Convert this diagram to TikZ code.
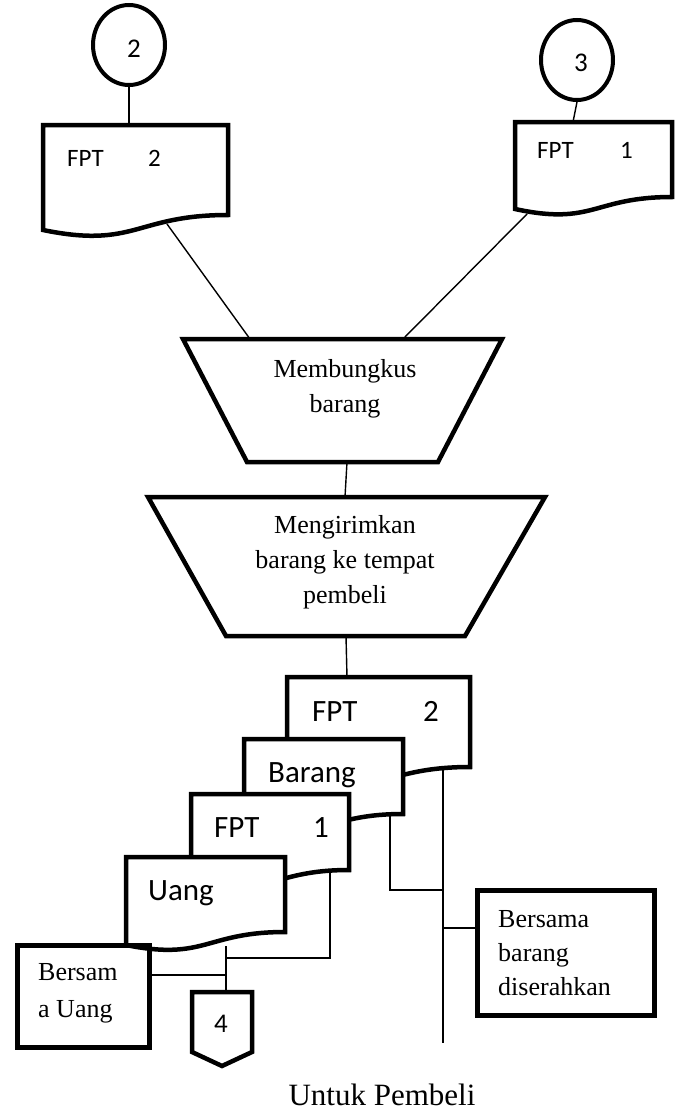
\documentclass[tikz,border=0pt]{standalone}
\usepackage{fontspec}
\usetikzlibrary{shapes.geometric}
\setmainfont{Liberation Serif}
\newfontfamily\docfont{Carlito}
\begin{document}
\begin{tikzpicture}[x=1pt,y=-1pt,
  outline/.style={line width=4.5pt, line join=miter, fill=white},
  wire/.style={line width=1.4pt},
  small/.style={font=\docfont\fontsize{25}{30}\selectfont, anchor=base west, inner sep=0pt},
  big/.style={font=\docfont\fontsize{31}{36}\selectfont, anchor=base west, inner sep=0pt},
  digit/.style={font=\docfont\fontsize{27}{30}\selectfont, anchor=base, inner sep=0pt},
  serif/.style={font=\fontsize{26}{35}\selectfont, inner sep=0pt, anchor=base},
  serifl/.style={serif, anchor=base west},
  connector/.style={ellipse, draw, line width=4pt, minimum width=72pt, minimum height=80pt, inner sep=0pt}]
\useasboundingbox (0,0) rectangle (678,1111);

% document symbol: left x, top y, right x, right-bottom y, left-bottom y, control y
\newcommand\docsym[6]{%
  \draw[outline] (#1,#2) -- (#3,#2) -- (#3,#4)
    .. controls ({(#1+#3)/2},#4) and ({(#1+#3)/2},#6) .. (#1,#5) -- cycle;}

% on-page connectors
\node[connector] (k2) at (129,45) {};
\node[digit] (k2t) at (134,57) {2};
\node[connector] (k3) at (577,60) {};
\node[digit] (k3t) at (581,71) {3};

% source documents
\docsym{43}{125}{228}{215}{230}{249}
\coordinate (d2top) at (129,125);
\coordinate (d2bot) at (167,224);
\node[small] (d2a) at (67,166) {FPT};
\node[small] (d2b) at (148,166) {2};

\docsym{515}{122}{672}{197}{209}{226}
\coordinate (d1top) at (573,122);
\coordinate (d1bot) at (527,214);
\node[small] (d1a) at (537,158) {FPT};
\node[small] (d1b) at (620,158) {1};

% manual operations
\draw[outline] (183,339) -- (502,339) -- (438,462) -- (247,462) -- cycle;
\coordinate (p1l) at (250,339);
\coordinate (p1r) at (403,339);
\coordinate (p1b) at (347,462);
\node[serif] (p1a) at (345,377) {Membungkus};
\node[serif] (p1c) at (345,412) {barang};

\draw[outline] (148,497) -- (545,497) -- (465,636) -- (226,636) -- cycle;
\coordinate (p2t) at (345,497);
\coordinate (p2b) at (346,636);
\node[serif] (p2a) at (345,533) {Mengirimkan};
\node[serif] (p2c) at (345,568) {barang ke tempat};
\node[serif] (p2d) at (345,603) {pembeli};

% connections above
\draw[wire] (k2.south) -- (d2top);
\draw[wire] (k3.south) -- (d1top);
\draw[wire] (d2bot) -- (p1l);
\draw[wire] (d1bot) -- (p1r);
\draw[wire] (p1b) -- (p2t);

% stacked output documents
\coordinate (sAtop) at (347,677);
\draw[wire] (p2b) -- (sAtop);

\docsym{287}{677}{470}{767}{782}{801}
\node[big] (sA1) at (312,721) {FPT};
\node[big] (sA2) at (423,721) {2};
\docsym{244}{739}{403}{814}{827}{843}
\node[big] (sB) at (268,782) {Barang};
\docsym{191}{794}{349}{870}{883}{899}
\node[big] (sC1) at (214,837) {FPT};
\node[big] (sC2) at (313,837) {1};
\docsym{126}{857}{285}{932}{945}{961}
\node[big] (sD) at (148,900) {Uang};

% notes
\node[draw, line width=4.5pt, minimum width=132pt, minimum height=102pt, anchor=north west] (nU) at (15,943) {};
\node[serifl] (nUa) at (38,980) {Bersam};
\node[serifl] (nUb) at (38,1017) {a Uang};
\node[draw, line width=4.5pt, minimum width=177pt, minimum height=125pt, anchor=north west] (nB) at (475,888) {};
\node[serifl] (nBa) at (498,927) {Bersama};
\node[serifl] (nBb) at (498,961) {barang};
\node[serifl] (nBc) at (498,995) {diserahkan};

% off-page connector
\draw[outline] (192,992) -- (252,992) -- (252,1052) -- (222,1066) -- (192,1052) -- cycle;
\coordinate (off) at (226,992);
\node[digit] (offt) at (221,1032) {4};

% distribution lines
\coordinate (aB) at (443,767);
\coordinate (aE) at (443,1043);
\coordinate (aJ) at (443,928);
\coordinate (bB) at (390,814);
\coordinate (bJ) at (390,890);
\coordinate (bE) at (443,890);
\coordinate (cB) at (330,870);
\coordinate (cJ) at (330,958);
\coordinate (cE) at (226,958);
\coordinate (dB) at (226,946);
\coordinate (uE) at (226,975);
\draw[wire] (aB) -- (aE);
\draw[wire] (aJ) -- (nB.west |- aJ);
\draw[wire] (bB) -- (bJ) -- (bE);
\draw[wire] (cB) -- (cJ) -- (cE);
\draw[wire] (dB) -- (off);
\draw[wire] (nU.east |- uE) -- (uE);

\node[font=\fontsize{31}{36}\selectfont, anchor=base, inner sep=0pt] (title) at (382,1105) {Untuk Pembeli};
\end{tikzpicture}
\end{document}
